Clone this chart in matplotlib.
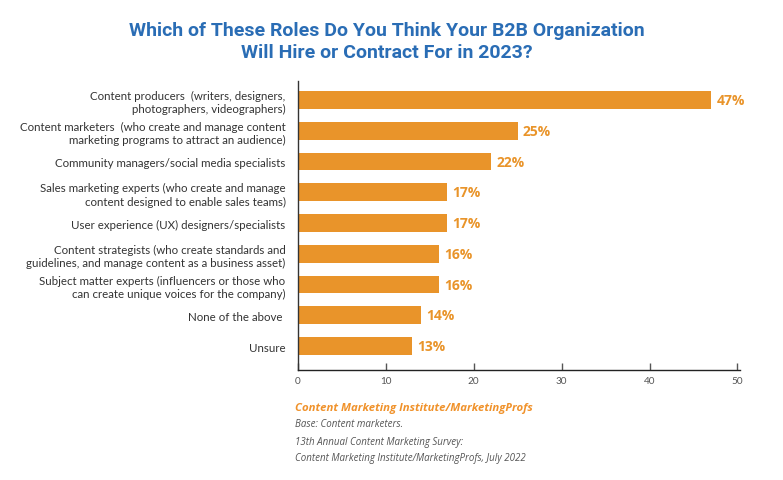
import matplotlib
matplotlib.use("Agg")
import matplotlib.pyplot as plt

categories = [
    "Content producers  (writers, designers,\nphotographers, videographers)",
    "Content marketers  (who create and manage content\nmarketing programs to attract an audience)",
    "Community managers/social media specialists",
    "Sales marketing experts (who create and manage\ncontent designed to enable sales teams)",
    "User experience (UX) designers/specialists",
    "Content strategists (who create standards and\nguidelines, and manage content as a business asset)",
    "Subject matter experts (influencers or those who\ncan create unique voices for the company)",
    "None of the above ",
    "Unsure",
]
values = [47, 25, 22, 17, 17, 16, 16, 14, 13]
xticks = [0, 10, 20, 30, 40, 50]

orange = "#e9942a"
blue = "#2a6db5"

fig = plt.figure(figsize=(7.83, 4.81), dpi=100)
ax = fig.add_axes([0.3806, 0.2287, 0.5645, 0.6008])

ypos = list(range(len(values)))
ax.barh(ypos, values, height=0.58, color=orange)
ax.set_ylim(len(values) - 1 + 0.78, -0.62)
ax.set_xlim(0, 50.3)
ax.set_yticks(ypos)
ax.set_yticklabels(categories, fontsize=8.3, color="#333333", family="Lato", linespacing=1.25)
ax.tick_params(axis="y", length=0, pad=9)
ax.set_xticks(xticks)
ax.set_xticklabels([str(t) for t in xticks], fontsize=7.2, color="#555555", family="Lato")
ax.tick_params(axis="x", direction="in", length=5, width=1, color="#555555", pad=4)
for s in ["top", "right"]:
    ax.spines[s].set_visible(False)
ax.spines["left"].set_color("#333333")
ax.spines["bottom"].set_color("#222222")
ax.spines["left"].set_linewidth(1)
ax.spines["bottom"].set_linewidth(1)

for y, v in zip(ypos, values):
    ax.text(v + 0.6, y, f"{v}%", va="center", ha="left", fontsize=10, fontweight="bold",
            color=orange, family="Open Sans")

fig.text(0.494, 1 - 42 / 481, "Which of These Roles Do You Think Your B2B Organization\nWill Hire or Contract For in 2023?",
         ha="center", va="center", fontsize=14, fontweight="bold", color=blue,
         family=["Roboto"], linespacing=1.22)

fig.text(295 / 783, 1 - 409 / 481, "Content Marketing Institute/MarketingProfs", ha="left", va="center",
         fontsize=8.2, fontweight="bold", style="italic", color="#f0922b", family="Open Sans")
fig.text(295 / 783, 1 - 425 / 481, "Base: Content marketers.", ha="left", va="center",
         fontsize=7, style="italic", color="#555555", family="Open Sans")
fig.text(295 / 783, 1 - 443 / 481, "13th Annual Content Marketing Survey:", ha="left", va="center",
         fontsize=7, style="italic", color="#555555", family="Open Sans")
fig.text(295 / 783, 1 - 459 / 481, "Content Marketing Institute/MarketingProfs, July 2022", ha="left", va="center",
         fontsize=7, style="italic", color="#555555", family="Open Sans")

fig.savefig("out.png", dpi=100)
